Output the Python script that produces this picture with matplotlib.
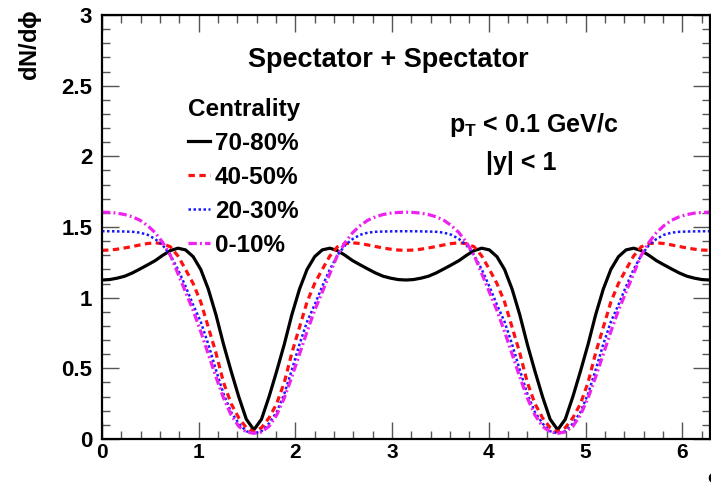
import numpy as np
import matplotlib
matplotlib.use("Agg")
import matplotlib.pyplot as plt
from matplotlib.ticker import MultipleLocator

plt.rcParams['font.family'] = ['Liberation Sans', 'DejaVu Sans']
plt.rcParams['font.weight'] = 'bold'
plt.rcParams['mathtext.fontset'] = 'custom'
plt.rcParams['mathtext.rm'] = 'Liberation Sans:bold'
plt.rcParams['mathtext.bf'] = 'Liberation Sans:bold'
plt.rcParams['mathtext.it'] = 'Liberation Sans:bold'

# azimuthal angle grid (0 .. 2pi, 81 samples)
phi = np.linspace(0, 2 * np.pi, 81)

c7080 = [1.125, 1.128, 1.138, 1.152, 1.175, 1.203, 1.232, 1.262, 1.300, 1.333, 1.350,
         1.338, 1.290, 1.200, 1.060, 0.880, 0.670, 0.480, 0.300, 0.140, 0.065,
         0.140, 0.300, 0.480, 0.670, 0.880, 1.060, 1.200, 1.290, 1.338, 1.350,
         1.333, 1.300, 1.262, 1.232, 1.203, 1.175, 1.152, 1.138, 1.128, 1.125,
         1.128, 1.138, 1.152, 1.175, 1.203, 1.232, 1.262, 1.300, 1.333, 1.350,
         1.338, 1.290, 1.200, 1.060, 0.880, 0.670, 0.480, 0.300, 0.140, 0.065,
         0.140, 0.300, 0.480, 0.670, 0.880, 1.060, 1.200, 1.290, 1.338, 1.350,
         1.333, 1.300, 1.262, 1.232, 1.203, 1.175, 1.152, 1.138, 1.128, 1.125]

c4050 = [1.335, 1.337, 1.343, 1.352, 1.362, 1.373, 1.383, 1.388, 1.382, 1.360, 1.295,
         1.200, 1.100, 0.970, 0.790, 0.610, 0.400, 0.250, 0.150, 0.080, 0.050,
         0.080, 0.150, 0.250, 0.400, 0.610, 0.790, 0.970, 1.100, 1.200, 1.295,
         1.360, 1.382, 1.388, 1.383, 1.373, 1.362, 1.352, 1.343, 1.337, 1.335,
         1.337, 1.343, 1.352, 1.362, 1.373, 1.383, 1.388, 1.382, 1.360, 1.295,
         1.200, 1.100, 0.970, 0.790, 0.610, 0.400, 0.250, 0.150, 0.080, 0.050,
         0.080, 0.150, 0.250, 0.400, 0.610, 0.790, 0.970, 1.100, 1.200, 1.295,
         1.360, 1.382, 1.388, 1.383, 1.373, 1.362, 1.352, 1.343, 1.337, 1.335]

c2030 = [1.470, 1.470, 1.469, 1.468, 1.466, 1.460, 1.445, 1.415, 1.370, 1.300, 1.200,
         1.080, 0.950, 0.830, 0.670, 0.490, 0.320, 0.190, 0.110, 0.055, 0.040,
         0.055, 0.110, 0.190, 0.320, 0.490, 0.670, 0.830, 0.950, 1.080, 1.200,
         1.300, 1.370, 1.415, 1.445, 1.460, 1.466, 1.468, 1.469, 1.470, 1.470,
         1.470, 1.469, 1.468, 1.466, 1.460, 1.445, 1.415, 1.370, 1.300, 1.200,
         1.080, 0.950, 0.830, 0.670, 0.490, 0.320, 0.190, 0.110, 0.055, 0.040,
         0.055, 0.110, 0.190, 0.320, 0.490, 0.670, 0.830, 0.950, 1.080, 1.200,
         1.300, 1.370, 1.415, 1.445, 1.460, 1.466, 1.468, 1.469, 1.470, 1.470]

c0010 = [1.605, 1.603, 1.598, 1.588, 1.572, 1.548, 1.510, 1.460, 1.390, 1.300, 1.170,
         1.040, 0.910, 0.760, 0.600, 0.440, 0.290, 0.170, 0.090, 0.050, 0.040,
         0.050, 0.090, 0.170, 0.290, 0.440, 0.600, 0.760, 0.910, 1.040, 1.170,
         1.300, 1.390, 1.460, 1.510, 1.548, 1.572, 1.588, 1.598, 1.603, 1.605,
         1.603, 1.598, 1.588, 1.572, 1.548, 1.510, 1.460, 1.390, 1.300, 1.170,
         1.040, 0.910, 0.760, 0.600, 0.440, 0.290, 0.170, 0.090, 0.050, 0.040,
         0.050, 0.090, 0.170, 0.290, 0.440, 0.600, 0.760, 0.910, 1.040, 1.170,
         1.300, 1.390, 1.460, 1.510, 1.548, 1.572, 1.588, 1.598, 1.603, 1.605]

labels = ["70-80%", "40-50%", "20-30%", "0-10%"]
x_ticks = [0, 1, 2, 3, 4, 5, 6]
y_ticks = [0, 0.5, 1, 1.5, 2, 2.5, 3]
y_tick_labels = ["0", "0.5", "1", "1.5", "2", "2.5", "3"]

fig = plt.figure(figsize=(7.11, 4.86), dpi=100)
ax = fig.add_axes([102 / 711, 47 / 486, 607.6 / 711, 424 / 486])

ax.plot(phi, c7080, color='black', lw=2.3, ls='-', label=labels[0])
ax.plot(phi, c4050, color='#ff1010', lw=2.3, ls=(0, (2.0, 1.4)), label=labels[1])
ax.plot(phi, c2030, color='#1818ff', lw=1.8, ls=(0, (1.0, 1.0)), label=labels[2])
ax.plot(phi, c0010, color='#ee22ee', lw=2.3, ls=(0, (2.6, 1.0, 0.6, 1.0)), label=labels[3])

ax.set_xlim(0, 2 * np.pi)
ax.set_ylim(0, 3)
ax.set_xticks(x_ticks)
ax.set_xticklabels([str(v) for v in x_ticks], fontsize=15, fontweight='bold')
ax.set_yticks(y_ticks)
ax.set_yticklabels(y_tick_labels, fontsize=16, fontweight='bold')
ax.xaxis.set_minor_locator(MultipleLocator(0.2))
ax.yaxis.set_minor_locator(MultipleLocator(0.1))
ax.tick_params(which='both', direction='in', top=True, right=True, color='#555555', width=1)
ax.tick_params(which='major', length=12)
ax.tick_params(which='minor', length=6)
ax.tick_params(axis='x', which='major', pad=3)
ax.tick_params(axis='y', which='major', pad=7)
for s in ax.spines.values():
    s.set_linewidth(1.6)

fig.text(31 / 711, 1 - 10 / 486, r"dN/d$\phi$", rotation=90, ha='center', va='top',
         fontsize=17, fontweight='bold')
fig.text(707 / 711, 1 - 478 / 486, r"$\phi$", ha='left', va='center', fontsize=14)

fig.text(388 / 711, 1 - 60 / 486, "Spectator + Spectator", fontsize=19.5,
         fontweight='bold', ha='center', va='center')
fig.text(534 / 711, 1 - 125 / 486, r"p$_{\rm T}$ < 0.1 GeV/c", ha='center', va='center',
         fontsize=18, fontweight='bold')
fig.text(521 / 711, 1 - 163 / 486, "|y| < 1", ha='center', va='center',
         fontsize=18, fontweight='bold')

leg = ax.legend(loc='upper left', bbox_to_anchor=(188 / 711, 1 - 98 / 486),
                bbox_transform=fig.transFigure, frameon=False, title="Centrality",
                alignment='left', fontsize=17.5, title_fontsize=17.5,
                handlelength=0.9, handletextpad=0.2, labelspacing=0.45,
                borderpad=0, borderaxespad=0)
leg.get_title().set_fontweight('bold')
for t in leg.get_texts():
    t.set_fontweight('bold')

fig.savefig("out.png", dpi=100)
